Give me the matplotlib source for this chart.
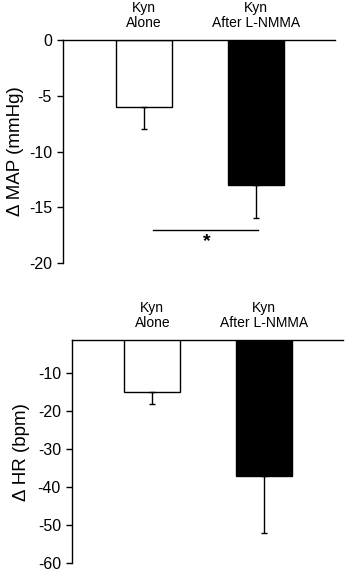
import numpy as np
import matplotlib
matplotlib.use("Agg")
import matplotlib.pyplot as plt

plt.rcParams['font.family'] = ['Liberation Sans', 'DejaVu Sans']

# --- DATA ---
groups = ["Kyn\nAlone", "Kyn\nAfter L-NMMA"]
bar_colors = ["white", "black"]

map_mean = [-6, -13]
map_err = [2, 3]
map_ticks = [0, -5, -10, -15, -20]

hr_mean = [-15, -37]
hr_err = [3, 15]
hr_ticks = [-10, -20, -30, -40, -50, -60]

x = np.arange(len(groups))

# --- FIGURE ---
fig = plt.figure(figsize=(3.47, 5.71), dpi=100)
ax1 = fig.add_axes([0.1816, 0.5394, 0.784, 0.3905])
ax2 = fig.add_axes([0.2075, 0.0135, 0.781, 0.391])


def draw_panel(ax, means, errs, ticks, ylim, ylabel, label_x):
    ax.bar(x, means, width=0.5, color=bar_colors, edgecolor="black",
           linewidth=1.0, zorder=2)
    # error bars only pointing down
    ax.errorbar(x, means, yerr=[errs, [0] * len(errs)], fmt="none",
                ecolor="black", elinewidth=1.0, capsize=2.5, capthick=1.0,
                zorder=3)
    ax.set_xlim(-0.72, 1.71)
    ax.set_ylim(*ylim)
    ax.set_yticks(ticks)
    ax.set_yticklabels([str(t) for t in ticks])
    ax.tick_params(axis="y", direction="out", length=4, width=1,
                   labelsize=11.5, pad=4)

    # group labels sit above the top line
    ax.set_xticks(x)
    ax.set_xticklabels(groups, fontsize=10, linespacing=1.15)
    ax.xaxis.tick_top()
    ax.tick_params(axis="x", length=0, pad=7)

    for side in ["right", "bottom"]:
        ax.spines[side].set_visible(False)
    for side in ["left", "top"]:
        ax.spines[side].set_linewidth(1.0)

    ax.set_ylabel(ylabel, fontsize=13.5)
    ax.yaxis.set_label_coords(label_x, 0.5)


draw_panel(ax1, map_mean, map_err, map_ticks, (-20, 0),
           "\u0394 MAP (mmHg)", -0.143)
draw_panel(ax2, hr_mean, hr_err, hr_ticks, (-60, -1.2),
           "\u0394 HR (bpm)", -0.155)

# significance marker on the MAP panel
ax1.plot([0.083, 1.02], [-17, -17], color="black", linewidth=1.0)
ax1.text(0.56, -18.1, "*", ha="center", va="center", fontsize=14,
         fontweight="bold")

fig.savefig("out.png", dpi=100)
